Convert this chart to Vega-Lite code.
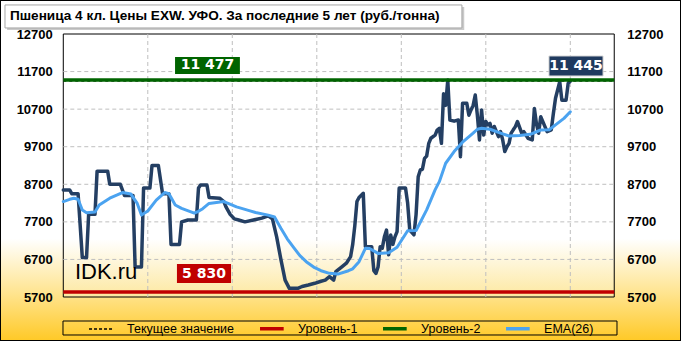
{
  "$schema": "https://vega.github.io/schema/vega-lite/v6.json",
  "width": 681,
  "height": 341,
  "autosize": "none",
  "padding": 0,
  "background": "#FFFFFF",
  "title": {"text": "Пшеница  4 кл. Цены EXW. УФО. За последние 5 лет (руб./тонна)", "anchor": "start", "frame": "group", "orient": "top", "offset": -23, "dx": 10, "font": "Liberation Sans", "fontSize": 13.6, "fontWeight": "bold", "color": "#000000"},
  "config": {
    "locale": {"number": {"decimal": ",", "thousands": " ", "grouping": [3], "currency": ["", ""]}},
    "view": {"fill": {"gradient": "linear", "x1": 0, "y1": 0, "x2": 0, "y2": 1, "stops": [{"offset": 0, "color": "#FFFFFF"}, {"offset": 0.7, "color": "#FFFFFF"}, {"offset": 0.86, "color": "#FFE48F"}, {"offset": 1, "color": "#FFC926"}]}, "stroke": "#000000", "strokeWidth": 2}
  },
  "datasets": {
    "price": [
      {"i":0,"v":8550},{"i":3,"v":8550},{"i":4,"v":8450},{"i":7,"v":8450},{"i":8,"v":7600},{"i":9,"v":6750},{"i":11,"v":6750},{"i":12,"v":7900},{"i":15,"v":7900},{"i":16,"v":9050},{"i":21,"v":9050},{"i":22,"v":8700},{"i":27,"v":8700},{"i":29,"v":8400},{"i":33,"v":8400},{"i":34,"v":6500},{"i":37,"v":6500},{"i":38,"v":8600},{"i":41,"v":8600},{"i":42,"v":9200},{"i":45,"v":9200},{"i":47,"v":8450},{"i":50,"v":8450},{"i":51,"v":7100},{"i":55,"v":7100},{"i":56,"v":7700},{"i":59,"v":7750},{"i":63,"v":7750},{"i":64,"v":8600},{"i":65,"v":8680},{"i":68,"v":8680},{"i":69,"v":8350},{"i":74,"v":8330},{"i":76,"v":8240},{"i":77,"v":8100},{"i":79,"v":7900},{"i":81,"v":7780},{"i":83,"v":7750},{"i":86,"v":7700},{"i":90,"v":7750},{"i":94,"v":7800},{"i":97,"v":7860},{"i":99,"v":7780},{"i":101,"v":7300},{"i":103,"v":6700},{"i":105,"v":6150},{"i":107,"v":5930},{"i":111,"v":5930},{"i":113,"v":5980},{"i":116,"v":6020},{"i":119,"v":6065},{"i":122,"v":6120},{"i":124,"v":6150},{"i":126,"v":6240},{"i":128,"v":6150},{"i":129,"v":6375},{"i":132,"v":6510},{"i":134,"v":6600},{"i":136,"v":6775},{"i":137,"v":7100},{"i":138,"v":7600},{"i":139,"v":8240},{"i":140,"v":8350},{"i":142,"v":8460},{"i":143,"v":7040},{"i":146,"v":7040},{"i":147,"v":6400},{"i":148,"v":6330},{"i":149,"v":6500},{"i":150,"v":7040},{"i":151,"v":7000},{"i":152,"v":7300},{"i":153,"v":7480},{"i":154,"v":6825},{"i":155,"v":7350},{"i":156,"v":7100},{"i":157,"v":7300},{"i":158,"v":7440},{"i":159,"v":8600},{"i":162,"v":8600},{"i":163,"v":8200},{"i":164,"v":7480},{"i":166,"v":7355},{"i":167,"v":7900},{"i":168,"v":8900},{"i":169,"v":9080},{"i":170,"v":9100},{"i":171,"v":9390},{"i":172,"v":9450},{"i":173,"v":9790},{"i":174,"v":9925},{"i":176,"v":10010},{"i":177,"v":10145},{"i":178,"v":10190},{"i":179,"v":9790},{"i":180,"v":11110},{"i":181,"v":10800},{"i":182,"v":11475},{"i":183,"v":10410},{"i":185,"v":10380},{"i":187,"v":10410},{"i":188,"v":9435},{"i":189,"v":10855},{"i":191,"v":10855},{"i":192,"v":10540},{"i":193,"v":10680},{"i":194,"v":10800},{"i":195,"v":11075},{"i":196,"v":10540},{"i":197,"v":9880},{"i":198,"v":10680},{"i":199,"v":10010},{"i":200,"v":10370},{"i":201,"v":10280},{"i":202,"v":10320},{"i":203,"v":10060},{"i":204,"v":10240},{"i":206,"v":9970},{"i":207,"v":10100},{"i":208,"v":9880},{"i":209,"v":9570},{"i":210,"v":9700},{"i":211,"v":9790},{"i":212,"v":10060},{"i":213,"v":10150},{"i":214,"v":10235},{"i":215,"v":10370},{"i":217,"v":10060},{"i":218,"v":10100},{"i":220,"v":9925},{"i":222,"v":9880},{"i":223,"v":10720},{"i":224,"v":10300},{"i":225,"v":10060},{"i":226,"v":10500},{"i":228,"v":10235},{"i":229,"v":10100},{"i":231,"v":10150},{"i":232,"v":10590},{"i":233,"v":10990},{"i":235,"v":11430},{"i":236,"v":10940},{"i":238,"v":10940},{"i":239,"v":11390},{"i":240,"v":11445}
    ],
    "ema": [
      {"i":0,"e":8240},{"i":3,"e":8300},{"i":5,"e":8330},{"i":7,"e":8300},{"i":9,"e":8015},{"i":11,"e":7945},{"i":15,"e":7960},{"i":17,"e":8150},{"i":22,"e":8330},{"i":28,"e":8480},{"i":32,"e":8440},{"i":35,"e":8190},{"i":37,"e":7880},{"i":40,"e":7990},{"i":44,"e":8280},{"i":48,"e":8480},{"i":50,"e":8450},{"i":53,"e":8150},{"i":56,"e":8060},{"i":62,"e":7930},{"i":64,"e":7980},{"i":66,"e":8050},{"i":69,"e":8190},{"i":76,"e":8240},{"i":82,"e":8100},{"i":88,"e":8000},{"i":91,"e":7950},{"i":97,"e":7880},{"i":100,"e":7830},{"i":103,"e":7530},{"i":106,"e":7250},{"i":109,"e":7020},{"i":112,"e":6800},{"i":115,"e":6640},{"i":119,"e":6480},{"i":122,"e":6400},{"i":126,"e":6330},{"i":130,"e":6310},{"i":135,"e":6400},{"i":137,"e":6450},{"i":140,"e":6640},{"i":143,"e":6995},{"i":145,"e":6990},{"i":149,"e":6860},{"i":154,"e":6880},{"i":158,"e":7025},{"i":163,"e":7465},{"i":167,"e":7470},{"i":172,"e":8020},{"i":176,"e":8550},{"i":178,"e":8770},{"i":181,"e":9260},{"i":185,"e":9570},{"i":189,"e":9820},{"i":194,"e":10060},{"i":196,"e":10165},{"i":198,"e":10190},{"i":202,"e":10165},{"i":207,"e":10060},{"i":211,"e":9985},{"i":216,"e":10000},{"i":221,"e":10030},{"i":226,"e":10145},{"i":230,"e":10150},{"i":233,"e":10280},{"i":237,"e":10455},{"i":240,"e":10630}
    ],
    "levels": [
      {"name": "Текущее значение", "value": 11445},
      {"name": "Уровень-1", "value": 5830},
      {"name": "Уровень-2", "value": 11477}
    ],
    "hgrid": [{"g":6700},{"g":7700},{"g":8700},{"g":9700},{"g":10700},{"g":11700}],
    "vgrid": [{"t":40},{"t":80},{"t":120},{"t":160},{"t":200},{"t":240}],
    "wm": [{"site": "IDK.ru"}]
  },
  "resolve": {"axis": {"y": "independent"}},
  "layer": [
    {
      "data": {"name": "wm"},
      "mark": {"type": "rect", "fill": "#BDBDBD", "opacity": 0.8},
      "encoding": {
        "x": {"datum": -26.6, "type": "quantitative", "scale": {"domain": [-29.96, 292.4], "nice": false, "zero": false}, "axis": null},
        "x2": {"datum": 189.8},
        "y": {"datum": 12805, "type": "quantitative", "scale": {"domain": [4529, 13605], "nice": false, "zero": false}, "axis": null},
        "y2": {"datum": 13420}
      }
    },
    {
      "data": {"name": "wm"},
      "mark": {"type": "rect", "fill": "#FFFFFF", "stroke": "#A6A6A6", "strokeWidth": 1},
      "encoding": {
        "x": {"datum": -27.6, "type": "quantitative", "scale": {"domain": [-29.96, 292.4], "nice": false, "zero": false}, "axis": null},
        "x2": {"datum": 188.7},
        "y": {"datum": 12861, "type": "quantitative", "scale": {"domain": [4529, 13605], "nice": false, "zero": false}, "axis": null},
        "y2": {"datum": 13473}
      }
    },
    {
      "data": {"name": "wm"},
      "mark": {"type": "rect", "fill": null, "stroke": "#000000", "strokeWidth": 1},
      "encoding": {
        "x": {"datum": -0.14, "type": "quantitative", "scale": {"domain": [-29.96, 292.4], "nice": false, "zero": false}, "axis": null},
        "x2": {"datum": 262.1},
        "y": {"datum": 4689, "type": "quantitative", "scale": {"domain": [4529, 13605], "nice": false, "zero": false}, "axis": null},
        "y2": {"datum": 5061}
      }
    },
    {
      "data": {"name": "wm"},
      "mark": {"type": "rect", "stroke": "#000000", "strokeWidth": 1, "fill": {"gradient": "linear", "x1": 0, "y1": 0, "x2": 0, "y2": 1, "stops": [{"offset": 0, "color": "#FFFFFF"}, {"offset": 0.78, "color": "#FFFFFF"}, {"offset": 1, "color": "#FDE8A0"}]}},
      "encoding": {
        "x": {"datum": 0, "type": "quantitative", "scale": {"domain": [-29.96, 292.4], "nice": false, "zero": false}, "axis": null},
        "x2": {"datum": 260.8},
        "y": {"datum": 5700, "type": "quantitative", "scale": {"domain": [4529, 13605], "nice": false, "zero": false}, "axis": null},
        "y2": {"datum": 12700}
      }
    },
    {
      "data": {"name": "hgrid"},
      "mark": {"type": "rule", "color": "#BFBFBF", "strokeDash": [4, 3], "strokeWidth": 1},
      "encoding": {
        "y": {"field": "g", "type": "quantitative", "scale": {"domain": [4529, 13605], "nice": false, "zero": false}, "axis": null},
        "x": {"datum": 0, "type": "quantitative", "scale": {"domain": [-29.96, 292.4], "nice": false, "zero": false}, "axis": null},
        "x2": {"datum": 260.8}
      }
    },
    {
      "data": {"name": "vgrid"},
      "mark": {"type": "rule", "color": "#BFBFBF", "strokeDash": [4, 3], "strokeWidth": 1},
      "encoding": {
        "x": {"field": "t", "type": "quantitative", "scale": {"domain": [-29.96, 292.4], "nice": false, "zero": false}, "axis": null},
        "y": {"datum": 5700, "type": "quantitative", "scale": {"domain": [4529, 13605], "nice": false, "zero": false}, "axis": null},
        "y2": {"datum": 12700}
      }
    },
    {
      "data": {"name": "price"},
      "mark": {"type": "line", "color": "#243F63", "strokeWidth": 3.5, "strokeJoin": "round", "strokeCap": "round"},
      "encoding": {
        "x": {"field": "i", "type": "quantitative", "scale": {"domain": [-29.96, 292.4], "nice": false, "zero": false},
          "axis": {"orient": "bottom", "offset": -44, "values": [0, 40, 80, 120, 160, 200, 240], "labelExpr": "['11.09.2015','17.06.2016','10.04.2017','29.01.2018','05.11.2018','19.08.2019','25.05.2020'][round(datum.value/40)]", "domain": false, "ticks": false, "tickSize": 0, "grid": false, "title": null, "labelPadding": 6, "labelFont": "Liberation Sans", "labelFontSize": 12, "labelFontWeight": "bold", "labelColor": "#000000", "labelOverlap": false}},
        "y": {"field": "v", "type": "quantitative", "scale": {"domain": [4529, 13605], "nice": false, "zero": false},
          "axis": {"orient": "left", "offset": -63.3, "values": [5700, 6700, 7700, 8700, 9700, 10700, 11700, 12700], "format": "d", "domain": false, "ticks": false, "tickSize": 0, "grid": false, "title": null, "labelPadding": 11, "labelFont": "Liberation Sans", "labelFontSize": 13, "labelFontWeight": "bold", "labelColor": "#000000", "labelOverlap": false}}
      }
    },
    {
      "data": {"name": "ema"},
      "mark": {"type": "line", "strokeWidth": 3, "strokeJoin": "round", "strokeCap": "round"},
      "encoding": {
        "x": {"field": "i", "type": "quantitative", "scale": {"domain": [-29.96, 292.4], "nice": false, "zero": false}},
        "y": {"field": "e", "type": "quantitative", "scale": {"domain": [4529, 13605], "nice": false, "zero": false},
          "axis": {"orient": "right", "offset": -66.7, "values": [5700, 6700, 7700, 8700, 9700, 10700, 11700, 12700], "format": "d", "domain": false, "ticks": false, "tickSize": 0, "grid": false, "title": null, "labelPadding": 12.5, "labelFont": "Liberation Sans", "labelFontSize": 13, "labelFontWeight": "bold", "labelColor": "#000000", "labelOverlap": false}},
        "color": {"datum": "EMA(26)", "type": "nominal",
          "scale": {"domain": ["Текущее значение", "Уровень-1", "Уровень-2", "EMA(26)"], "range": ["#000000", "#C00000", "#006400", "#4BA3F0"]},
          "legend": {"orient": "none", "legendX": 91.6, "legendY": 319, "direction": "horizontal", "columns": 4, "title": null, "symbolType": "stroke", "symbolSize": 560, "symbolStrokeWidth": 3.5, "labelFont": "Liberation Sans", "labelFontSize": 12.5, "labelColor": "#000000", "labelOffset": 20, "columnPadding": 18, "padding": 3,
            "encode": {"symbols": {"update": {"strokeDash": {"signal": "datum.label === 'Текущее значение' ? [3, 2] : [1, 0]"}, "strokeWidth": {"signal": "datum.label === 'Текущее значение' ? 1.5 : 3.5"}}}}}}
      }
    },
    {
      "data": {"name": "levels"},
      "mark": {"type": "rule"},
      "encoding": {
        "y": {"field": "value", "type": "quantitative", "scale": {"domain": [4529, 13605], "nice": false, "zero": false}, "axis": null},
        "x": {"datum": 0, "type": "quantitative", "scale": {"domain": [-29.96, 292.4], "nice": false, "zero": false}},
        "x2": {"datum": 260.8},
        "color": {"field": "name", "type": "nominal",
          "scale": {"domain": ["Текущее значение", "Уровень-1", "Уровень-2", "EMA(26)"], "range": ["#000000", "#C00000", "#006400", "#4BA3F0"]},
          "legend": {"orient": "none", "legendX": 91.6, "legendY": 319, "direction": "horizontal", "columns": 4, "title": null, "symbolType": "stroke", "symbolSize": 560, "symbolStrokeWidth": 3.5, "labelFont": "Liberation Sans", "labelFontSize": 12.5, "labelColor": "#000000", "labelOffset": 20, "columnPadding": 18, "padding": 3,
            "encode": {"symbols": {"update": {"strokeDash": {"signal": "datum.label === 'Текущее значение' ? [3, 2] : [1, 0]"}, "strokeWidth": {"signal": "datum.label === 'Текущее значение' ? 1.5 : 3.5"}}}}}},
        "strokeDash": {"condition": {"test": "datum.name === 'Текущее значение'", "value": [3, 3]}, "value": [1, 0]},
        "strokeWidth": {"condition": {"test": "datum.name === 'Текущее значение'", "value": 1}, "value": 3.5}
      }
    },
    {
      "data": {"name": "levels"},
      "transform": [{"filter": "datum.name === 'Уровень-2'"}],
      "layer": [
        {
          "mark": {"type": "rect", "fill": "#006400"},
          "encoding": {
            "x": {"datum": 52.9, "type": "quantitative", "scale": {"domain": [-29.96, 292.4], "nice": false, "zero": false}},
            "x2": {"datum": 83.6},
            "y": {"datum": 11636, "type": "quantitative", "scale": {"domain": [4529, 13605], "nice": false, "zero": false}, "axis": null},
            "y2": {"datum": 12089}
          }
        },
        {
          "mark": {"type": "text", "color": "#FFFFFF", "font": "DejaVu Sans", "fontSize": 14, "fontWeight": "bold", "align": "center", "baseline": "middle"},
          "encoding": {
            "x": {"datum": 68.25, "type": "quantitative", "scale": {"domain": [-29.96, 292.4], "nice": false, "zero": false}},
            "y": {"datum": 11862, "type": "quantitative", "scale": {"domain": [4529, 13605], "nice": false, "zero": false}, "axis": null},
            "text": {"field": "value", "type": "quantitative", "format": ",d"}
          }
        }
      ]
    },
    {
      "data": {"name": "levels"},
      "transform": [{"filter": "datum.name === 'Уровень-1'"}],
      "layer": [
        {
          "mark": {"type": "rect", "fill": "#C00000"},
          "encoding": {
            "x": {"datum": 53.8, "type": "quantitative", "scale": {"domain": [-29.96, 292.4], "nice": false, "zero": false}},
            "x2": {"datum": 79.4},
            "y": {"datum": 6073, "type": "quantitative", "scale": {"domain": [4529, 13605], "nice": false, "zero": false}, "axis": null},
            "y2": {"datum": 6578}
          }
        },
        {
          "mark": {"type": "text", "color": "#FFFFFF", "font": "DejaVu Sans", "fontSize": 14, "fontWeight": "bold", "align": "center", "baseline": "middle"},
          "encoding": {
            "x": {"datum": 66.6, "type": "quantitative", "scale": {"domain": [-29.96, 292.4], "nice": false, "zero": false}},
            "y": {"datum": 6325, "type": "quantitative", "scale": {"domain": [4529, 13605], "nice": false, "zero": false}, "axis": null},
            "text": {"field": "value", "type": "quantitative", "format": ",d"}
          }
        }
      ]
    },
    {
      "data": {"name": "levels"},
      "transform": [{"filter": "datum.name === 'Текущее значение'"}],
      "layer": [
        {
          "mark": {"type": "rect", "fill": "#1F3A5F", "stroke": "#D9D9D9", "strokeWidth": 1},
          "encoding": {
            "x": {"datum": 229.9, "type": "quantitative", "scale": {"domain": [-29.96, 292.4], "nice": false, "zero": false}},
            "x2": {"datum": 255.5},
            "y": {"datum": 11583, "type": "quantitative", "scale": {"domain": [4529, 13605], "nice": false, "zero": false}, "axis": null},
            "y2": {"datum": 12115}
          }
        },
        {
          "mark": {"type": "text", "color": "#FFFFFF", "font": "DejaVu Sans", "fontSize": 14, "fontWeight": "bold", "align": "center", "baseline": "middle"},
          "encoding": {
            "x": {"datum": 242.7, "type": "quantitative", "scale": {"domain": [-29.96, 292.4], "nice": false, "zero": false}},
            "y": {"datum": 11849, "type": "quantitative", "scale": {"domain": [4529, 13605], "nice": false, "zero": false}, "axis": null},
            "text": {"field": "value", "type": "quantitative", "format": ",d"}
          }
        }
      ]
    },
    {
      "data": {"name": "wm"},
      "mark": {"type": "text", "color": "#000000", "font": "Liberation Sans", "fontSize": 22, "align": "left", "baseline": "middle"},
      "encoding": {
        "x": {"datum": 5.5, "type": "quantitative", "scale": {"domain": [-29.96, 292.4], "nice": false, "zero": false}},
        "y": {"datum": 6365, "type": "quantitative", "scale": {"domain": [4529, 13605], "nice": false, "zero": false}, "axis": null},
        "text": {"field": "site", "type": "nominal"}
      }
    }
  ]
}
